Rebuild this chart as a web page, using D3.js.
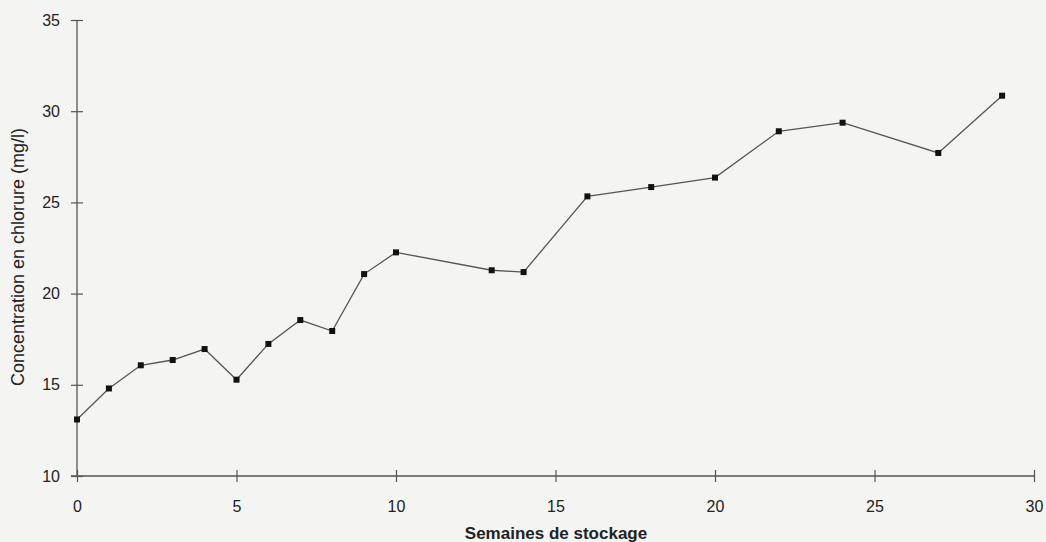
<!DOCTYPE html>
<html>
<head>
<meta charset="utf-8">
<script src="https://cdn.jsdelivr.net/npm/d3@7/dist/d3.min.js"></script>
<style>
  html, body { margin: 0; padding: 0; background: #f4f4f2; }
  svg { display: block; }
  text { font-family: "Liberation Sans", Arial, sans-serif; fill: #222; }
</style>
</head>
<body>
<svg id="chart" width="1046" height="542"></svg>
<script>
// Chloride concentration over storage weeks
const weeks = [0, 1, 2, 3, 4, 5, 6, 7, 8, 9, 10, 13, 14, 16, 18, 20, 22, 24, 27, 29];
const chloride = [13.1, 14.8, 16.07, 16.36, 16.96, 15.28, 17.24, 18.55, 17.95, 21.07,
                  22.26, 21.28, 21.18, 25.33, 25.84, 26.36, 28.9, 29.37, 27.71, 30.85];
const xTicks = [0, 5, 10, 15, 20, 25, 30];
const yTicks = [10, 15, 20, 25, 30, 35];
const xTitle = "Semaines de stockage";
const yTitle = "Concentration en chlorure (mg/l)";

const svg = d3.select("#chart");
const plotLeft = 77, plotRight = 1034, plotTop = 20, plotBottom = 476;

const x = d3.scaleLinear().domain([0, 30]).range([plotLeft, plotRight]);
const y = d3.scaleLinear().domain([10, 35]).range([plotBottom, plotTop]);

const axisColor = "#555";
const font = "Liberation Sans, Arial, sans-serif";

// x axis with ticks crossing the line
const gx = svg.append("g").attr("transform", `translate(0,${plotBottom})`)
  .call(d3.axisBottom(x).tickValues(xTicks).tickSize(6).tickPadding(19))
  .attr("font-size", 16).attr("font-family", font);
gx.select(".domain").attr("d", `M${plotLeft - 6},0H${plotRight}`).attr("stroke", axisColor).attr("stroke-width", 1.3);
gx.selectAll(".tick line").attr("y1", -6).attr("y2", 6).attr("stroke", axisColor).attr("stroke-width", 1.2);
gx.selectAll(".tick text").attr("fill", "#222");

// y axis with ticks crossing the line
const gy = svg.append("g").attr("transform", `translate(${plotLeft},0)`)
  .call(d3.axisLeft(y).tickValues(yTicks).tickSize(6).tickPadding(11))
  .attr("font-size", 16).attr("font-family", font);
gy.select(".domain").attr("d", `M0,${plotTop}V${plotBottom}`).attr("stroke", axisColor).attr("stroke-width", 1.3);
gy.selectAll(".tick line").attr("x1", -6).attr("x2", 6).attr("stroke", axisColor).attr("stroke-width", 1.2);
gy.selectAll(".tick text").attr("fill", "#222");

const data = weeks.map((w, i) => ({ w, c: chloride[i] }));

// connecting line
svg.append("path")
  .datum(data)
  .attr("fill", "none")
  .attr("stroke", "#555")
  .attr("stroke-width", 1.3)
  .attr("d", d3.line().x(d => x(d.w)).y(d => y(d.c)));

// square markers
const s = 6;
svg.selectAll("rect.pt")
  .data(data)
  .join("rect")
  .attr("class", "pt")
  .attr("x", d => x(d.w) - s / 2)
  .attr("y", d => y(d.c) - s / 2)
  .attr("width", s)
  .attr("height", s)
  .attr("fill", "#111");

// axis titles
svg.append("text")
  .attr("x", 556).attr("y", 539)
  .attr("text-anchor", "middle")
  .attr("font-size", 17)
  .attr("font-weight", "bold")
  .attr("fill", "#222")
  .text(xTitle);

svg.append("text")
  .attr("transform", `translate(24,257) rotate(-90)`)
  .attr("text-anchor", "middle")
  .attr("font-size", 18)
  .attr("fill", "#222")
  .text(yTitle);
</script>
</body>
</html>
